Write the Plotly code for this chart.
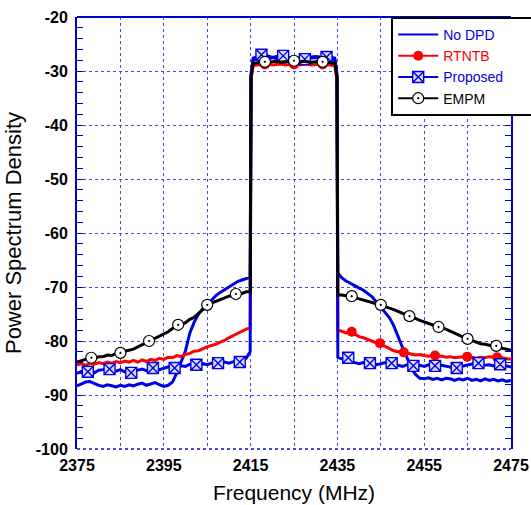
import plotly.graph_objects as go

# ---------------- data ----------------
FREQ_LEFT = list(range(2375, 2415))
FREQ_EDGE_L = [2414.9, 2415.1, 2415.6]
FREQ_BAND = list(range(2417, 2434))
FREQ_EDGE_R = [2434.4, 2434.9, 2435.1]
FREQ_RIGHT = list(range(2436, 2476))
FREQ = FREQ_LEFT + FREQ_EDGE_L + FREQ_BAND + FREQ_EDGE_R + FREQ_RIGHT

NODPD_LEFT = [-88.3, -88.0, -87.6, -87.5, -87.9, -88.2, -88.4, -88.1, -88.3, -88.5,
              -88.2, -88.4, -88.1, -88.3, -88.0, -87.8, -88.2, -88.0, -87.7, -88.1,
              -88.4, -88.2, -87.6, -85.9, -84.0, -81.8, -78.5, -76.5, -75.0, -74.0,
              -73.3, -72.4, -71.6, -71.0, -70.5, -70.0, -69.5, -69.0, -68.7, -68.4]
NODPD_BAND = [-68.2, -31.0, -27.9,
              -27.7, -27.6, -27.8, -27.5, -27.7, -27.6, -27.8, -27.7, -27.5, -27.6,
              -27.8, -27.7, -27.6, -27.5, -27.7, -27.6, -27.8,
              -28.0, -31.0, -67.4]
NODPD_RIGHT = [-68.3, -68.9, -69.3, -69.8, -70.2, -70.6, -71.2, -71.8, -72.8, -73.8,
               -74.8, -75.7, -77.2, -79.3, -81.2, -83.0, -85.0, -86.2, -86.9, -87.0,
               -86.8, -87.1, -86.9, -87.2, -86.9, -87.0, -87.3, -87.0, -87.2, -86.9,
               -87.3, -87.1, -87.4, -87.0, -87.3, -87.1, -87.4, -87.2, -87.5, -87.3]

RTNTB_LEFT = [-84.4, -84.2, -84.5, -84.1, -84.3, -84.0, -84.2, -83.9, -84.1, -83.8,
              -84.0, -83.7, -83.9, -83.6, -83.9, -83.5, -83.8, -83.4, -83.6, -83.2,
              -83.4, -83.0, -83.1, -82.7, -82.9, -82.5, -82.3, -81.9, -81.8, -81.4,
              -81.1, -80.8, -80.6, -80.2, -79.9, -79.4, -79.0, -78.6, -78.2, -77.8]
RTNTB_BAND = [-77.6, -31.5, -29.0,
              -28.8, -28.9, -28.7, -28.9, -28.8, -28.7, -28.9, -28.8, -28.7, -28.9,
              -28.8, -28.7, -28.9, -28.8, -28.7, -28.8, -28.9,
              -29.0, -31.5, -78.0]
RTNTB_RIGHT = [-78.2, -78.5, -78.3, -78.8, -79.2, -79.4, -79.7, -80.0, -80.3, -80.6,
               -81.0, -81.4, -81.8, -82.0, -82.1, -82.3, -82.4, -82.6, -82.5, -82.7,
               -82.8, -82.7, -82.9, -82.8, -83.0, -82.9, -83.1, -83.0, -82.9, -83.1,
               -83.0, -83.2, -83.0, -83.1, -82.9, -83.0, -83.2, -83.1, -83.3, -83.4]

PROP_LEFT = [-86.0, -85.6, -85.8, -85.5, -85.9, -85.4, -85.3, -85.1, -85.4, -85.6,
             -85.3, -85.7, -85.9, -85.6, -85.4, -85.2, -85.5, -85.1, -85.0, -85.3,
             -85.1, -84.8, -85.0, -84.9, -84.6, -84.7, -84.3, -84.5, -84.6, -84.2,
             -84.4, -84.1, -84.0, -84.2, -83.9, -84.1, -83.8, -83.6, -83.7, -83.2]
PROP_BAND = [-82.0, -30.5, -27.6,
             -27.3, -27.0, -27.2, -27.5, -27.3, -27.2, -27.4, -27.5, -27.6, -27.8,
             -27.6, -27.5, -27.4, -27.3, -27.4, -27.5, -27.4,
             -27.6, -30.5, -83.0]
PROP_RIGHT = [-83.3, -83.6, -83.8, -84.0, -84.2, -84.0, -84.3, -84.1, -84.4, -84.2,
              -84.0, -84.3, -84.1, -84.5, -84.7, -84.4, -84.6, -84.8, -84.5, -84.7,
              -84.4, -84.6, -84.8, -84.5, -84.7, -84.9, -85.0, -84.8, -84.6, -84.4,
              -84.2, -84.1, -84.3, -84.5, -84.4, -84.6, -84.3, -84.5, -84.7, -84.8]

EMPM_LEFT = [-83.9, -83.6, -83.4, -83.2, -83.3, -82.9, -82.9, -82.6, -82.7, -82.3,
             -82.2, -81.9, -81.7, -81.5, -81.1, -80.7, -80.3, -79.9, -79.6, -79.2,
             -78.8, -78.3, -77.7, -77.2, -77.0, -76.6, -76.0, -75.6, -74.9, -74.2,
             -73.5, -73.0, -72.7, -72.3, -72.1, -71.7, -71.6, -71.3, -71.2, -70.9]
EMPM_BAND = [-70.9, -31.2, -28.6,
             -28.4, -28.3, -28.4, -28.3, -28.2, -28.4, -28.3, -28.2, -28.3, -28.4,
             -28.2, -28.3, -28.4, -28.3, -28.2, -28.3, -28.4,
             -28.6, -31.2, -71.5]
EMPM_RIGHT = [-71.5, -71.6, -71.7, -71.9, -72.2, -72.4, -72.6, -72.9, -73.1, -73.4,
              -73.6, -73.9, -74.2, -74.5, -74.9, -75.2, -75.6, -75.8, -76.2, -76.5,
              -76.8, -77.0, -77.3, -77.6, -77.8, -78.2, -78.5, -78.9, -79.3, -79.6,
              -79.9, -80.3, -80.5, -80.6, -80.8, -80.9, -81.1, -81.3, -81.6, -81.7]

NODPD = NODPD_LEFT + NODPD_BAND + NODPD_RIGHT
RTNTB = RTNTB_LEFT + RTNTB_BAND + RTNTB_RIGHT
PROPOSED = PROP_LEFT + PROP_BAND + PROP_RIGHT
EMPM = EMPM_LEFT + EMPM_BAND + EMPM_RIGHT

# marker positions
PROP_MK_F = [2377.5, 2382.5, 2387.5, 2392.5, 2397.5, 2402.5, 2407.5, 2412.5,
             2417.5, 2422.5, 2427.5, 2432.5,
             2437.5, 2442.5, 2447.5, 2452.5, 2457.5, 2462.5, 2467.5, 2472.5]
PROP_MK_V = [-85.7, -85.2, -85.9, -85.0, -85.0, -84.4, -84.1, -83.9,
             -27.0, -27.2, -27.8, -27.4,
             -83.1, -84.1, -84.1, -84.6, -84.6, -85.0, -84.1, -84.3]
EMPM_MK_F = [2378.3, 2385.0, 2391.6, 2398.3, 2405.0, 2411.6, 2418.3, 2425.0, 2431.6,
             2438.3, 2445.0, 2451.6, 2458.3, 2465.0, 2471.6]
EMPM_MK_V = [-83.1, -82.2, -80.0, -77.0, -73.3, -71.3, -28.3, -28.1, -28.3,
             -71.7, -73.3, -75.4, -77.4, -79.6, -80.9]
RTNTB_MK_F = [2418.3, 2425.0, 2431.6,
              2438.3, 2444.8, 2450.3, 2457.5, 2464.9, 2471.8]
RTNTB_MK_V = [-28.8, -28.8, -28.8,
              -78.3, -80.4, -82.1, -82.7, -82.9, -83.0]

X_TICKS = [2375, 2395, 2415, 2435, 2455, 2475]
Y_TICKS = [-100, -90, -80, -70, -60, -50, -40, -30, -20]
Y_TICK_LABELS = ["-100", "-90", "-80", "-70", "-60", "-50", "-40", "-30", "-20"]

# ---------------- styles ----------------
BLUE = "#0000e6"
RED = "#ff0000"
BLACK = "#000000"
GRID = "#4646e0"
FRAME = "#0000cc"
LW = 3.0

prop_marker = dict(symbol="square-x", size=11, color="#d8dcff",
                   line=dict(color=BLUE, width=1.4))
empm_marker = dict(symbol="circle-dot", size=11, color="white",
                   line=dict(color=BLACK, width=1.2))
rtntb_marker = dict(symbol="circle", size=10, color=RED, line=dict(width=0))

fig = go.Figure()

# lines
fig.add_trace(go.Scatter(x=FREQ, y=NODPD, mode="lines", line=dict(color=BLUE, width=LW),
                         showlegend=False))
fig.add_trace(go.Scatter(x=FREQ, y=RTNTB, mode="lines", line=dict(color=RED, width=LW),
                         showlegend=False))
fig.add_trace(go.Scatter(x=RTNTB_MK_F, y=RTNTB_MK_V, mode="markers", marker=rtntb_marker,
                         showlegend=False))
fig.add_trace(go.Scatter(x=FREQ, y=PROPOSED, mode="lines", line=dict(color=BLUE, width=LW),
                         showlegend=False))
fig.add_trace(go.Scatter(x=PROP_MK_F, y=PROP_MK_V, mode="markers", marker=prop_marker,
                         showlegend=False))
fig.add_trace(go.Scatter(x=FREQ, y=EMPM, mode="lines", line=dict(color=BLACK, width=LW),
                         showlegend=False))
fig.add_trace(go.Scatter(x=EMPM_MK_F, y=EMPM_MK_V, mode="markers", marker=empm_marker,
                         showlegend=False))

# legend entries
PAD = "&nbsp;" * 7
fig.add_trace(go.Scatter(x=[None], y=[None], mode="lines", line=dict(color=BLUE, width=2),
                         name=f"<span style='color:{BLUE}'>No DPD</span>"))
fig.add_trace(go.Scatter(x=[None], y=[None], mode="lines+markers", line=dict(color=RED, width=2),
                         marker=rtntb_marker, name=f"<span style='color:{RED}'>RTNTB</span>"))
fig.add_trace(go.Scatter(x=[None], y=[None], mode="lines+markers", line=dict(color=BLUE, width=2),
                         marker=prop_marker,
                         name=f"<span style='color:{BLUE}'>Proposed</span>{PAD}"))
fig.add_trace(go.Scatter(x=[None], y=[None], mode="lines+markers", line=dict(color=BLACK, width=2),
                         marker=empm_marker, name="EMPM"))

fig.update_layout(
    width=531, height=505,
    margin=dict(l=77, r=20, t=17, b=56, autoexpand=False),
    paper_bgcolor="white", plot_bgcolor="white",
    font=dict(family="Arial, Liberation Sans, sans-serif", color="black"),
    legend=dict(x=0.724, y=1.0, xanchor="left", yanchor="top",
                bgcolor="white", bordercolor="black", borderwidth=2,
                font=dict(size=14), itemwidth=40, tracegroupgap=0),
    xaxis=dict(range=[2375, 2475], tickvals=X_TICKS, ticks="",
               showgrid=True, gridcolor=GRID, griddash="dot", gridwidth=1.3,
               minor=dict(dtick=10, tick0=2375, showgrid=True, gridcolor=GRID,
                          griddash="dot", gridwidth=1.3),
               showline=False, zeroline=False, ticklabelstandoff=5,
               tickfont=dict(size=16, weight="bold"),
               title=dict(text="Frequency (MHz)", font=dict(size=21), standoff=12)),
    yaxis=dict(range=[-100, -20], tickvals=Y_TICKS, ticktext=Y_TICK_LABELS,
               ticks="inside", ticklen=6, tickcolor=FRAME,
               showgrid=True, gridcolor=GRID, griddash="dot", gridwidth=1.3,
               minor=dict(dtick=2, ticks="inside", ticklen=6, tickcolor=FRAME),
               showline=True, linecolor=FRAME, linewidth=2, mirror="ticks",
               zeroline=False, ticklabelstandoff=4,
               tickfont=dict(size=16, weight="bold"),
               title=dict(text="Power Spectrum Density", font=dict(size=22), standoff=8)),
    shapes=[dict(type="line", xref="paper", yref="paper", x0=0, x1=1, y0=1, y1=1,
                 line=dict(color=FRAME, width=2)),
            dict(type="line", xref="paper", yref="paper", x0=0, x1=1, y0=0, y1=0,
                 line=dict(color=GRID, width=2, dash="dot"))],
)

fig.write_html("out.html")
